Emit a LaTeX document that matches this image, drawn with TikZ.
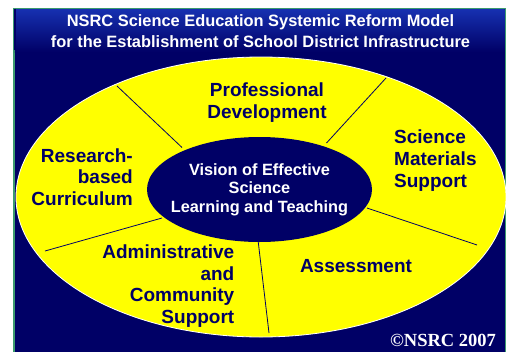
\documentclass[tikz,border=0pt]{standalone}
\usepackage{fontspec}
\setmainfont{Liberation Sans}
\newfontfamily\copyfont{Liberation Serif}
\usepackage{xcolor}
\usepackage{tikz}
\usetikzlibrary{shapes.geometric, positioning}
\definecolor{nsrcnavy}{HTML}{000066}
\definecolor{nsrcyellow}{HTML}{FFFF00}
\definecolor{nsrcblue}{HTML}{0636D4}
\definecolor{nsrctop}{HTML}{1630B0}
\definecolor{nsrcgreen}{HTML}{3C9A6E}

\begin{document}
\begin{tikzpicture}[x=1pt, y=-1pt,
    segment/.style={text=nsrcnavy, font=\fontsize{19}{21.6}\selectfont\bfseries, inner sep=0pt},
    divider/.style={draw=nsrcnavy, line width=0.8pt}]
    \useasboundingbox (0,0) rectangle (508,351);

    % Frame and background
    \fill[white] (0,0) rectangle (508,351);
    \draw[nsrcgreen, line width=1.6pt, fill=nsrcnavy] (14,8.5) rectangle (505.5,353);

    % Title band
    \shade[top color=nsrctop, middle color=nsrcblue, bottom color=nsrcnavy] (14.8,9.3) rectangle (504.7,52);
    \draw[nsrcnavy, line width=2pt] (14.5,8.5) -- (14.5,50);
    \node[text=white, font=\fontsize{16.4}{21}\selectfont\bfseries, align=center, inner sep=0pt] (title) at (260.5,31.5) {
        NSRC Science Education Systemic Reform Model\\
        for the Establishment of School District Infrastructure
    };

    % Yellow ring
    \node[ellipse, fill=nsrcyellow, draw=white, line width=0.8pt, minimum width=490pt, minimum height=280pt, inner sep=0pt] (ring) at (261,197) {};

    % Ring dividers
    \draw[divider] (117,86) -- (182,147.5);
    \draw[divider] (386,78) -- (326.5,143);
    \draw[divider] (477,245) -- (367,208);
    \draw[divider] (269,333) -- (258,240);
    \draw[divider] (45,251) -- (162,218);

    % Center ellipse
    \node[ellipse, fill=nsrcnavy, minimum width=225pt, minimum height=105pt, inner sep=0pt] (hub) at (259.5,189.5) {};
    \node[text=white, font=\fontsize{16.3}{18.4}\selectfont\bfseries, align=center, inner sep=0pt] (vision) at (hub.center) {
        Vision of Effective\\
        Science\\
        Learning and Teaching
    };

    % Segment labels
    \node[segment, align=center] (profdev) at (267,102.5) {Professional\\Development};
    \node[segment, align=left, anchor=west] (materials) at (394,160.5) {Science\\Materials\\Support};
    \node[segment, align=right, anchor=east] (curriculum) at (133,177) {Research-\\based\\Curriculum};
    \node[segment, align=right, anchor=east] (admin) at (234.5,286) {Administrative\\and\\Community\\Support};
    \node[segment] (assessment) at (356,266.5) {Assessment};

    % Copyright
    \node[text=white, font=\copyfont\bfseries\fontsize{18.5}{20}\selectfont, inner sep=0pt] (copy) at (443,340.5) {©NSRC 2007};
\end{tikzpicture}
\end{document}
